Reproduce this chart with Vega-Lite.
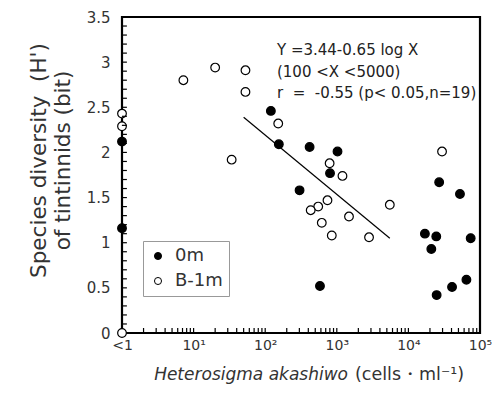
{
  "$schema": "https://vega.github.io/schema/vega-lite/v6.json",
  "autosize": {"type": "none"},
  "width": 358,
  "height": 316,
  "padding": {"left": 122, "top": 17, "right": 19, "bottom": 63},
  "background": "white",
  "config": {
    "font": "DejaVu Sans",
    "view": {"stroke": "black", "strokeWidth": 2.2},
    "axis": {"domain": false, "grid": false, "ticks": false, "tickSize": 0, "labelColor": "#333", "titleColor": "#333", "labelFontWeight": "normal", "titleFontWeight": "normal"}
  },
  "datasets": {
    "pts": [
      {"x": 1, "y": 2.12, "series": "0m"},
      {"x": 1, "y": 1.16, "series": "0m"},
      {"x": 120, "y": 2.46, "series": "0m"},
      {"x": 155, "y": 2.09, "series": "0m"},
      {"x": 417, "y": 2.06, "series": "0m"},
      {"x": 1023, "y": 2.01, "series": "0m"},
      {"x": 804, "y": 1.77, "series": "0m"},
      {"x": 302, "y": 1.58, "series": "0m"},
      {"x": 582, "y": 0.52, "series": "0m"},
      {"x": 26900, "y": 1.67, "series": "0m"},
      {"x": 52500, "y": 1.54, "series": "0m"},
      {"x": 17000, "y": 1.10, "series": "0m"},
      {"x": 24500, "y": 1.07, "series": "0m"},
      {"x": 20900, "y": 0.93, "series": "0m"},
      {"x": 74100, "y": 1.05, "series": "0m"},
      {"x": 64600, "y": 0.59, "series": "0m"},
      {"x": 40700, "y": 0.51, "series": "0m"},
      {"x": 24800, "y": 0.42, "series": "0m"},
      {"x": 1, "y": 2.43, "series": "B-1m"},
      {"x": 1, "y": 2.29, "series": "B-1m"},
      {"x": 1, "y": 0, "series": "B-1m"},
      {"x": 7.2, "y": 2.80, "series": "B-1m"},
      {"x": 20, "y": 2.94, "series": "B-1m"},
      {"x": 53, "y": 2.91, "series": "B-1m"},
      {"x": 53, "y": 2.67, "series": "B-1m"},
      {"x": 152, "y": 2.32, "series": "B-1m"},
      {"x": 34, "y": 1.92, "series": "B-1m"},
      {"x": 794, "y": 1.88, "series": "B-1m"},
      {"x": 1200, "y": 1.74, "series": "B-1m"},
      {"x": 741, "y": 1.47, "series": "B-1m"},
      {"x": 550, "y": 1.40, "series": "B-1m"},
      {"x": 432, "y": 1.36, "series": "B-1m"},
      {"x": 5500, "y": 1.42, "series": "B-1m"},
      {"x": 1480, "y": 1.29, "series": "B-1m"},
      {"x": 617, "y": 1.22, "series": "B-1m"},
      {"x": 851, "y": 1.08, "series": "B-1m"},
      {"x": 2820, "y": 1.06, "series": "B-1m"},
      {"x": 29500, "y": 2.01, "series": "B-1m"}
    ],
    "fit": [
      {"x": 50, "y": 2.39},
      {"x": 5500, "y": 1.05}
    ],
    "yticks": [
      {"v": 0.1}, {"v": 0.2}, {"v": 0.3}, {"v": 0.4}, {"v": 0.5}, {"v": 0.6}, {"v": 0.7}, {"v": 0.8}, {"v": 0.9}, {"v": 1.0},
      {"v": 1.1}, {"v": 1.2}, {"v": 1.3}, {"v": 1.4}, {"v": 1.5}, {"v": 1.6}, {"v": 1.7}, {"v": 1.8}, {"v": 1.9}, {"v": 2.0},
      {"v": 2.1}, {"v": 2.2}, {"v": 2.3}, {"v": 2.4}, {"v": 2.5}, {"v": 2.6}, {"v": 2.7}, {"v": 2.8}, {"v": 2.9}, {"v": 3.0},
      {"v": 3.1}, {"v": 3.2}, {"v": 3.3}, {"v": 3.4}
    ],
    "xticks": [
      {"v": 2}, {"v": 3}, {"v": 4}, {"v": 5}, {"v": 6}, {"v": 7}, {"v": 8}, {"v": 9}, {"v": 10},
      {"v": 20}, {"v": 30}, {"v": 40}, {"v": 50}, {"v": 60}, {"v": 70}, {"v": 80}, {"v": 90}, {"v": 100},
      {"v": 200}, {"v": 300}, {"v": 400}, {"v": 500}, {"v": 600}, {"v": 700}, {"v": 800}, {"v": 900}, {"v": 1000},
      {"v": 2000}, {"v": 3000}, {"v": 4000}, {"v": 5000}, {"v": 6000}, {"v": 7000}, {"v": 8000}, {"v": 9000}, {"v": 10000},
      {"v": 20000}, {"v": 30000}, {"v": 40000}, {"v": 50000}, {"v": 60000}, {"v": 70000}, {"v": 80000}, {"v": 90000}
    ]
  },
  "layer": [
    {
      "data": {"name": "pts"},
      "mark": {"type": "point", "shape": "circle", "filled": true, "stroke": "black", "strokeWidth": 1.2, "size": 75, "opacity": 1},
      "encoding": {
        "x": {"field": "x", "type": "quantitative", "scale": {"type": "log", "domain": [1, 100000], "nice": false},
          "axis": {
            "title": null,
            "values": [1, 10, 100, 1000, 10000, 100000],
            "labelExpr": "datum.value == 1 ? '<1' : datum.value == 10 ? '10¹' : datum.value == 100 ? '10²' : datum.value == 1000 ? '10³' : datum.value == 10000 ? '10⁴' : datum.value == 100000 ? '10⁵' : ''",
            "labelPadding": 5,
            "labelFontSize": 14,
            "labelFlush": false,
            "labelOverlap": false
          }
        },
        "y": {"field": "y", "type": "quantitative", "scale": {"domain": [0, 3.5], "nice": false},
          "axis": {
            "title": ["Species diversity\u00a0 (H')", "of tintinnids (bit)"],
            "titleFontSize": 21.5,
            "titlePadding": 12,
            "titleLineHeight": 24,
            "titleY": 143,
            "values": [0, 0.5, 1, 1.5, 2, 2.5, 3, 3.5],
            "format": "~g",
            "labelPadding": 12,
            "labelFontSize": 15,
            "labelFlush": false,
            "labelOverlap": false
          }
        },
        "fill": {"field": "series", "type": "nominal",
          "scale": {"domain": ["0m", "B-1m"], "range": ["black", "white"]},
          "legend": {"title": null, "orient": "none", "legendX": 21, "legendY": 224,
            "labelFontSize": 18, "labelColor": "#333", "symbolSize": 50, "symbolStrokeColor": "black", "symbolStrokeWidth": 1,
            "strokeColor": "#999", "padding": 6, "rowPadding": 7, "labelOffset": 8, "symbolType": "circle"}
        }
      }
    },
    {
      "data": {"name": "yticks"},
      "mark": {"type": "tick", "color": "black", "orient": "horizontal", "size": 5, "thickness": 1.2, "opacity": 1},
      "encoding": {
        "y": {"field": "v", "type": "quantitative"},
        "x": {"datum": 1.08}
      }
    },
    {
      "data": {"name": "xticks"},
      "mark": {"type": "tick", "color": "black", "orient": "vertical", "size": 5, "thickness": 1.2, "opacity": 1},
      "encoding": {
        "x": {"field": "v", "type": "quantitative"},
        "y": {"datum": 0.028}
      }
    },
    {
      "data": {"name": "fit"},
      "mark": {"type": "line", "color": "black", "strokeWidth": 1.2},
      "encoding": {
        "x": {"field": "x", "type": "quantitative"},
        "y": {"field": "y", "type": "quantitative"}
      }
    },
    {
      "data": {"values": [{}]},
      "mark": {"type": "text", "align": "left", "baseline": "middle", "fontSize": 15, "lineHeight": 21.5, "color": "#222",
        "text": ["Y =3.44-0.65 log X", "(100 <X <5000)", "r\u00a0 =\u00a0 -0.55 (p< 0.05,n=19)"]},
      "encoding": {
        "x": {"datum": 146},
        "y": {"datum": 3.13}
      }
    },
    {
      "data": {"values": [{}]},
      "mark": {"type": "text", "align": "right", "baseline": "middle", "fontSize": 17, "fontStyle": "italic", "color": "#333", "text": "Heterosigma akashiwo"},
      "encoding": {
        "x": {"datum": 1433},
        "y": {"datum": -0.465}
      }
    },
    {
      "data": {"values": [{}]},
      "mark": {"type": "text", "align": "left", "baseline": "middle", "fontSize": 17.5, "color": "#333", "text": "(cells・ml⁻¹)"},
      "encoding": {
        "x": {"datum": 1795},
        "y": {"datum": -0.465}
      }
    }
  ]
}
